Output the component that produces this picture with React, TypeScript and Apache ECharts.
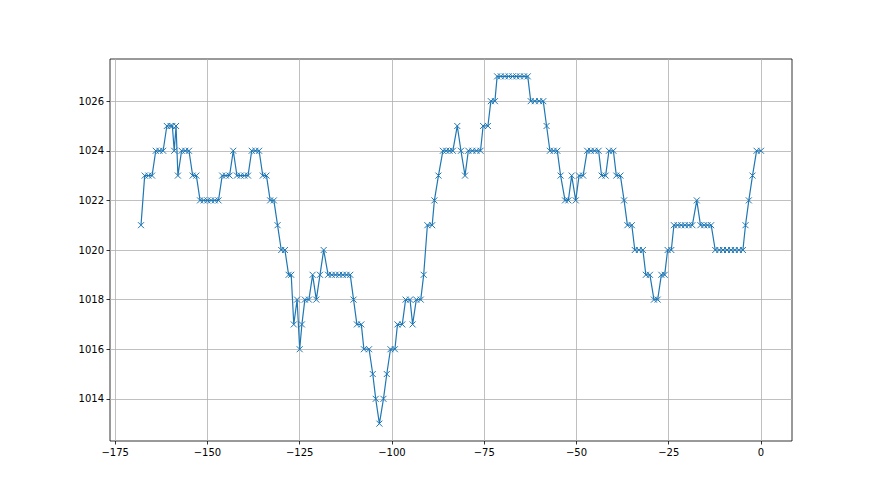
import React, { useEffect, useRef } from 'react';
import * as echarts from 'echarts';

// x: hours relative to now, y: pressure (hPa)
const hoursAgo: number[] = [
  -168, -167, -166, -165, -164, -163, -162, -161, -160, -159.5, -159, -158.5, -158,
  -157, -156, -155, -154, -153, -152, -151, -150, -149, -148, -147, -146, -145, -144,
  -143, -142, -141, -140, -139, -138, -137, -136, -135, -134, -133, -132, -131, -130,
  -129, -128, -127.3, -126.6, -125.7, -125, -124.4, -123.6, -122.5, -121.5, -120.5,
  -119.5, -118.5, -117.3, -116.3, -115.3, -114.3, -113.3, -112.3, -111.3, -110.4,
  -109.5, -108.3, -107.6, -106.2, -105.2, -104.4, -103.4, -102.3, -101.4, -100.4,
  -99.2, -98.5, -97.2, -96.3, -95.1, -94.4, -93.4, -92.2, -91.4, -90.4, -89.1, -88.5,
  -87.4, -86.2, -85.3, -84.4, -83.5, -82.3, -81.3, -80.2, -79.3, -78.2, -77.1, -76,
  -75.3, -74, -73.2, -72.1, -71.5, -70.5, -69.4, -68.4, -67.3, -66.3, -65.3, -64.2,
  -63.2, -62.4, -61.3, -60.1, -59, -58.1, -57.2, -56.2, -55.2, -54.3, -53.1, -52.2,
  -51.3, -50.2, -49.3, -48.2, -47.1, -46.1, -45.1, -44, -43.2, -42.1, -41.2, -40,
  -39.2, -38.1, -37.1, -36.2, -35, -34.2, -33.1, -32, -31.2, -30.1, -29, -28, -27,
  -26.1, -25.3, -24.3, -23.6, -22.6, -21.6, -20.6, -19.6, -18.6, -17.4, -16.4, -15.4,
  -14.5, -13.5, -12.4, -11.3, -10.3, -9.2, -8.1, -7.1, -6, -4.9, -4.2, -3.3, -2.3,
  -1.2, 0,
];

const pressure: number[] = [
  1021, 1023, 1023, 1023, 1024, 1024, 1024, 1025, 1025, 1025, 1024, 1025, 1023,
  1024, 1024, 1024, 1023, 1023, 1022, 1022, 1022, 1022, 1022, 1022, 1023, 1023, 1023,
  1024, 1023, 1023, 1023, 1023, 1024, 1024, 1024, 1023, 1023, 1022, 1022, 1021, 1020,
  1020, 1019, 1019, 1017, 1018, 1016, 1017, 1018, 1018, 1019, 1018,
  1019, 1020, 1019, 1019, 1019, 1019, 1019, 1019, 1019, 1018,
  1017, 1017, 1016, 1016, 1015, 1014, 1013, 1014, 1015, 1016,
  1016, 1017, 1017, 1018, 1018, 1017, 1018, 1018, 1019, 1021, 1021, 1022,
  1023, 1024, 1024, 1024, 1024, 1025, 1024, 1023, 1024, 1024, 1024, 1024,
  1025, 1025, 1026, 1026, 1027, 1027, 1027, 1027, 1027, 1027, 1027, 1027,
  1027, 1026, 1026, 1026, 1026, 1025, 1024, 1024, 1024, 1023, 1022, 1022,
  1023, 1022, 1023, 1023, 1024, 1024, 1024, 1024, 1023, 1023, 1024, 1024,
  1023, 1023, 1022, 1021, 1021, 1020, 1020, 1020, 1019, 1019, 1018, 1018, 1019,
  1019, 1020, 1020, 1021, 1021, 1021, 1021, 1021, 1021, 1022, 1021, 1021,
  1021, 1021, 1020, 1020, 1020, 1020, 1020, 1020, 1020, 1020, 1021, 1022, 1023,
  1024, 1024,
];

const xTicks: number[] = [-175, -150, -125, -100, -75, -50, -25, 0];
const yTicks: number[] = [1014, 1016, 1018, 1020, 1022, 1024, 1026];

const minus = (v: number) => String(v).replace('-', '\u2212');

export default function App() {
  const ref = useRef<HTMLDivElement>(null);
  useEffect(() => {
    if (!ref.current) return;
    const chart = echarts.init(ref.current, undefined, { renderer: 'svg' });
    const data = hoursAgo.map((x, i) => [x, pressure[i]]);
    const axisCommon = {
      axisLine: { show: false, onZero: false },
      axisTick: { show: true, inside: false, length: 3.5, lineStyle: { color: '#000', width: 0.8 } },
      splitLine: { show: true, lineStyle: { color: '#b0b0b0', width: 0.8 } },
    };
    chart.setOption({
      animation: false,
      textStyle: { fontFamily: 'DejaVu Sans' },
      grid: {
        left: 110,
        right: 88,
        top: 59,
        bottom: 54,
        show: true,
        borderColor: '#000',
        borderWidth: 0.8,
        backgroundColor: 'transparent',
      },
      xAxis: {
        type: 'value',
        min: -176.4,
        max: 8.4,
        ...axisCommon,
        axisTick: { ...axisCommon.axisTick, customValues: xTicks },
        axisLabel: {
          customValues: xTicks,
          formatter: (v: number) => minus(v),
          color: '#000',
          fontSize: 10,
          fontFamily: 'DejaVu Sans',
          margin: 6,
        },
      },
      yAxis: {
        type: 'value',
        min: 1012.3,
        max: 1027.7,
        ...axisCommon,
        axisTick: { ...axisCommon.axisTick, customValues: yTicks },
        axisLabel: {
          customValues: yTicks,
          formatter: (v: number) => String(v),
          color: '#000',
          fontSize: 10,
          fontFamily: 'DejaVu Sans',
          margin: 6,
        },
      },
      series: [
        {
          type: 'line',
          data,
          symbol: 'path://M0,0L10,10M10,0L0,10',
          symbolSize: 6,
          showAllSymbol: true,
          lineStyle: { color: '#1f77b4', width: 1.2 },
          itemStyle: { color: 'none', borderColor: '#1f77b4', borderWidth: 1 },
        },
      ],
    });
    return () => chart.dispose();
  }, []);
  return (
    <div
      ref={ref}
      style={{ position: 'absolute', left: 0, top: 0, width: 880, height: 495, background: '#fff' }}
    />
  );
}
